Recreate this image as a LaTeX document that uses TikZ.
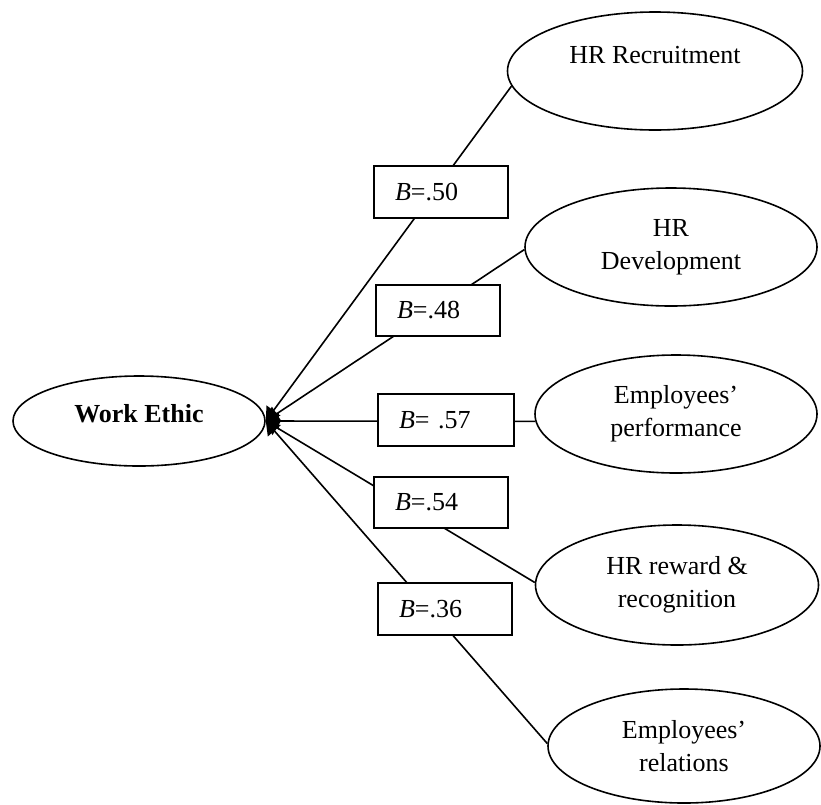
\documentclass[tikz,border=0pt]{standalone}
\usepackage{fontspec}
\setmainfont{Liberation Serif}
\usetikzlibrary{shapes.geometric,arrows.meta}
\begin{document}
\begin{tikzpicture}[x=1pt,y=-1pt,
  every node/.style={font=\fontsize{26}{33}\selectfont},
  oval/.style={draw,ellipse,line width=1.6pt,inner sep=0pt,align=center},
  bbox/.style={draw,fill=white,line width=1.6pt,inner ysep=0pt,inner xsep=21pt,
    align=left,minimum height=52pt},
  conn/.style={line width=1.6pt,-{Triangle[length=13pt,width=17pt]}}]
\useasboundingbox (0,0) rectangle (821,804);
% ellipses
\node[oval,minimum width=252pt,minimum height=90pt,text depth=16pt] (we) at (139,421) {\textbf{Work Ethic}};
\node[oval,minimum width=295pt,minimum height=118pt] (rec) at (655,71) {HR Recruitment\\\mbox{}};
\node[oval,minimum width=292pt,minimum height=118pt] (dev) at (671,247) {HR\\Development};
\node[oval,minimum width=282pt,minimum height=118pt] (perf) at (676,414) {Employees'\\performance};
\node[oval,minimum width=283pt,minimum height=120pt] (rew) at (677,585) {HR reward \&\\recognition};
\node[oval,minimum width=272pt,minimum height=114pt] (rel) at (684,746) {Employees'\\relations};
% connectors
\draw[conn] (rec.186) -- (we.east);
\draw[conn] (dev.181) -- (we.east);
\draw[conn] (perf.183) -- (we.east);
\draw[conn] (rew.179) -- (we.east);
\draw[conn] (rel.179) -- (we.east);
% coefficient boxes
\node[bbox,text width=92pt] (b50) at (441,192) {\textit{B}=.50};
\node[bbox,text width=82pt,minimum height=51pt] (b48) at (438,310.5) {\textit{B}=.48};
\node[bbox,text width=94pt] (b57) at (446,420) {\textit{B}= .57};
\node[bbox,text width=92pt,minimum height=51pt] (b54) at (441,502.5) {\textit{B}=.54};
\node[bbox,text width=92pt] (b36) at (445,609) {\textit{B}=.36};
\end{tikzpicture}
\end{document}
